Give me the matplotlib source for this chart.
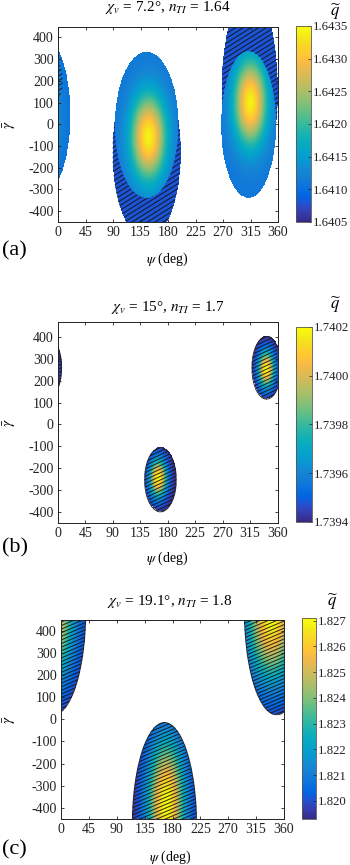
import numpy as np
import matplotlib
matplotlib.use("Agg")
import matplotlib.pyplot as plt
from matplotlib.colors import LinearSegmentedColormap
from matplotlib.collections import LineCollection

plt.rcParams['font.family'] = ['Liberation Serif', 'DejaVu Serif']
plt.rcParams['mathtext.fontset'] = 'stix'

W, H, DPI = 350, 865, 100

# ---------------- data ----------------
psi_ticks = [0, 45, 90, 135, 180, 225, 270, 315, 360]
gamma_ticks = [-400, -300, -200, -100, 0, 100, 200, 300, 400]
titles = [r'$\chi_v$ = 7.2°, $n_{TI}$ = 1.64',
          r'$\chi_v$ = 15°, $n_{TI}$ = 1.7',
          r'$\chi_v$ = 19.1°, $n_{TI}$ = 1.8']
panel_labels = ['(a)', '(b)', '(c)']
x_label = r'$\psi$ (deg)'
y_label = r'$\bar{\gamma}$'
cbar_label = r'$\widetilde{q}$'

# panel (a): colored blobs (ellipse centre / semi-axes, peak location / spread, edge & peak value)
a_blob_psi = [-25, 145, 312]
a_blob_gamma = [41, -4, -2]
a_blob_apsi = [45, 52, 45]
a_blob_agamma = [362, 336, 338]
a_peak_psi = [-25, 148, 315]
a_peak_gamma = [40, -60, 100]
a_spread_psi = [30, 28, 26]
a_spread_gamma = [250, 190, 190]
a_q_edge = [1.6410, 1.6411, 1.6411]
a_q_peak = [1.6416, 1.6434, 1.6434]
a_blob_hatched = [True, False, False]
a_hatch_psi = [-12, 145, 314]
a_hatch_gamma = [200, -130, 150]
a_hatch_apsi = [20, 56, 46]
a_hatch_agamma = [110, 400, 460]
a_q_hatch = 1.6408
a_cticks = [1.6405, 1.6410, 1.6415, 1.6420, 1.6425, 1.6430, 1.6435]
a_clim = (1.6405, 1.6435)
a_ylim = (-450, 450)

# panel (b)
b_blob_psi = [168, 342]
b_blob_gamma = [-254, 260]
b_blob_apsi = [26, 24]
b_blob_agamma = [147, 144]
b_peak_psi = [164, 341]
b_peak_gamma = [-250, 250]
b_spread_psi = [14, 13]
b_spread_gamma = [85, 82]
b_q_edge = [1.7394, 1.7394]
b_q_peak = [1.74021, 1.74021]
b_blob_hatched = [True, True]
b_hatch_psi = b_blob_psi
b_hatch_gamma = b_blob_gamma
b_hatch_apsi = b_blob_apsi
b_hatch_agamma = b_blob_agamma
b_q_hatch = 1.7394
b_cticks = [1.7394, 1.7396, 1.7398, 1.7400, 1.7402]
b_clim = (1.7394, 1.7402)
b_ylim = (-450, 470)

# panel (c)
c_blob_psi = [167, 348]
c_blob_gamma = [-480, 490]
c_blob_apsi = [52, 52]
c_blob_agamma = [465, 470]
c_peak_psi = [170, 340]
c_peak_gamma = [-380, 470]
c_spread_psi = [30, 38]
c_spread_gamma = [290, 290]
c_q_edge = [1.8193, 1.8193]
c_q_peak = [1.8272, 1.8272]
c_blob_hatched = [True, True]
c_hatch_psi = c_blob_psi
c_hatch_gamma = c_blob_gamma
c_hatch_apsi = c_blob_apsi
c_hatch_agamma = c_blob_agamma
c_q_hatch = 1.8193
c_cticks = [1.820, 1.821, 1.822, 1.823, 1.824, 1.825, 1.826, 1.827]
c_clim = (1.8193, 1.8271)
c_ylim = (-450, 450)

# ---------------- colormap (MATLAB parula) ----------------
PARULA = [
    (0.2081, 0.1663, 0.5292), (0.2123, 0.2138, 0.6270), (0.1959, 0.2645, 0.7279),
    (0.1253, 0.3242, 0.8303), (0.0117, 0.3875, 0.8820), (0.0165, 0.4266, 0.8786),
    (0.0498, 0.4586, 0.8641), (0.0723, 0.4887, 0.8467), (0.0793, 0.5200, 0.8312),
    (0.0641, 0.5570, 0.8240), (0.0343, 0.5966, 0.8199), (0.0239, 0.6287, 0.8038),
    (0.0228, 0.6535, 0.7768), (0.0384, 0.6743, 0.7436), (0.0843, 0.6928, 0.7062),
    (0.1453, 0.7098, 0.6646), (0.2178, 0.7250, 0.6193), (0.3022, 0.7376, 0.5712),
    (0.3953, 0.7459, 0.5244), (0.4871, 0.7491, 0.4840), (0.5709, 0.7485, 0.4494),
    (0.6473, 0.7456, 0.4188), (0.7184, 0.7411, 0.3905), (0.7858, 0.7356, 0.3633),
    (0.8507, 0.7299, 0.3360), (0.9139, 0.7258, 0.3063), (0.9739, 0.7314, 0.2666),
    (0.9990, 0.7653, 0.2164), (0.9880, 0.8066, 0.1794), (0.9697, 0.8481, 0.1475),
    (0.9589, 0.8949, 0.1132), (0.9661, 0.9514, 0.0755), (0.9763, 0.9831, 0.0538)]
cmap = LinearSegmentedColormap.from_list('parula', PARULA, N=256)

panels = [
    dict(blob=(a_blob_psi, a_blob_gamma, a_blob_apsi, a_blob_agamma),
         peak=(a_peak_psi, a_peak_gamma, a_spread_psi, a_spread_gamma),
         qe=a_q_edge, qp=a_q_peak, hatched=a_blob_hatched,
         hatch=(a_hatch_psi, a_hatch_gamma, a_hatch_apsi, a_hatch_agamma),
         qh=a_q_hatch, cticks=a_cticks, clim=a_clim, ylim=a_ylim, fmt='%.4f',
         wrap=False,
         ax=(58, 278, 26.5, 222), cax=(296, 311, 26, 222), outline=False,
         hang=32, hsp=4.8, title=(168, 8), qlab=(336, 12), plab=(2, 251), xlab=(167, 259)),
    dict(blob=(b_blob_psi, b_blob_gamma, b_blob_apsi, b_blob_agamma),
         peak=(b_peak_psi, b_peak_gamma, b_spread_psi, b_spread_gamma),
         qe=b_q_edge, qp=b_q_peak, hatched=b_blob_hatched,
         hatch=(b_hatch_psi, b_hatch_gamma, b_hatch_apsi, b_hatch_agamma),
         qh=b_q_hatch, cticks=b_cticks, clim=b_clim, ylim=b_ylim, fmt='%.4f',
         wrap=True,
         ax=(58, 277.5, 322, 522.5), cax=(296, 312, 327, 522), outline=True,
         hang=25, hsp=3.6, title=(168, 307), qlab=(336, 305), plab=(2, 548), xlab=(167, 558)),
    dict(blob=(c_blob_psi, c_blob_gamma, c_blob_apsi, c_blob_agamma),
         peak=(c_peak_psi, c_peak_gamma, c_spread_psi, c_spread_gamma),
         qe=c_q_edge, qp=c_q_peak, hatched=c_blob_hatched,
         hatch=(c_hatch_psi, c_hatch_gamma, c_hatch_apsi, c_hatch_agamma),
         qh=c_q_hatch, cticks=c_cticks, clim=c_clim, ylim=c_ylim, fmt='%.3f',
         wrap=True,
         ax=(61, 284, 619.5, 819), cax=(302, 316, 618, 819), outline=True,
         hang=23, hsp=3.6, title=(170, 602), qlab=(333, 602), plab=(2, 850), xlab=(170, 857)),
]

fig = plt.figure(figsize=(W / DPI, H / DPI), dpi=DPI)


def rect(x0, x1, y0, y1):
    return [x0 / W, 1 - y1 / H, (x1 - x0) / W, (y1 - y0) / H]


def fpos(x, y):
    return x / W, 1 - y / H


for i, p in enumerate(panels):
    ylo, yhi = p['ylim']
    psi = np.linspace(0, 360, 721)
    gam = np.linspace(ylo, yhi, 461)
    P, G = np.meshgrid(psi, gam)
    shifts = (-360, 0, 360) if p['wrap'] else (0,)

    def inside(pc, gc, ap, ag):
        m = np.zeros(P.shape, bool)
        for s in shifts:
            m |= ((P - pc - s) / ap) ** 2 + ((G - gc) / ag) ** 2 <= 1
        return m

    def bump(pp, pg, sp, sg):
        v = np.zeros(P.shape)
        for s in shifts:
            v = np.maximum(v, np.exp(-((P - pp - s) / sp) ** 2 - ((G - pg) / sg) ** 2))
        return v

    Q = np.full(P.shape, np.nan)
    hmask = np.zeros(P.shape, bool)
    for k in range(len(p['hatch'][0])):
        m = inside(*[arr[k] for arr in p['hatch']])
        hmask |= m
        Q[m] = p['qh']
    plain = np.zeros(P.shape, bool)
    for k in range(len(p['blob'][0])):
        m = inside(*[arr[k] for arr in p['blob']])
        val = p['qe'][k] + (p['qp'][k] - p['qe'][k]) * bump(*[arr[k] for arr in p['peak']])
        Q = np.where(m, val, Q)
        if not p['hatched'][k]:
            plain |= m
    colored = ~np.isnan(Q)
    hmask &= ~plain

    ax = fig.add_axes(rect(*p['ax']))
    im = ax.imshow(np.ma.masked_invalid(Q), extent=(0, 360, ylo, yhi), origin='lower',
                   aspect='auto', cmap=cmap, vmin=p['clim'][0], vmax=p['clim'][1],
                   interpolation='nearest')
    # hatch lines clipped to the hatched region
    cs = ax.contourf(P, G, hmask.astype(float), levels=[0.5, 1.5], colors='none')
    paths = cs.get_paths()
    if len(paths) and len(paths[0].vertices):
        wpx = p['ax'][1] - p['ax'][0]
        hpx = p['ax'][3] - p['ax'][2]
        t = np.tan(np.radians(p['hang']))
        segs = []
        for c in np.arange(-wpx * t - p['hsp'], hpx + p['hsp'], p['hsp']):
            segs.append([(0, c / hpx), (1, (c + wpx * t) / hpx)])
        lc = LineCollection(segs, colors='#111111', linewidths=0.75, alpha=0.85,
                            transform=ax.transAxes)
        ax.add_collection(lc)
        lc.set_clip_path(paths[0], ax.transData)
    if p['outline']:
        ax.contour(P, G, colored.astype(float), levels=[0.5], colors='#222222', linewidths=0.6)

    ax.set_xlim(0, 360)
    ax.set_ylim(ylo, yhi)
    ax.set_xticks(psi_ticks)
    ax.set_yticks(gamma_ticks)
    ax.set_xticklabels([str(v) for v in psi_ticks])
    ax.set_yticklabels([str(v) for v in gamma_ticks])
    ax.tick_params(direction='in', top=True, right=True, length=2.5, width=0.6,
                   labelsize=10, colors='#222222', pad=3)
    for sp in ax.spines.values():
        sp.set_linewidth(0.7)
        sp.set_color('#222222')

    cax = fig.add_axes(rect(*p['cax']))
    cb = fig.colorbar(im, cax=cax, ticks=p['cticks'], format=p['fmt'])
    cb.outline.set_linewidth(0.6)
    cb.outline.set_edgecolor('#555555')
    cax.tick_params(direction='in', length=2.5, width=0.5, labelsize=9.2,
                    colors='#222222', pad=1.5)

    fig.text(*fpos(*p['title']), titles[i], ha='center', va='center', fontsize=11)
    fig.text(*fpos(*p['qlab']), cbar_label, ha='center', va='center', fontsize=12)
    fig.text(*fpos(*p['plab']), panel_labels[i], ha='left', va='center', fontsize=16)
    fig.text(*fpos(*p['xlab']), x_label, ha='center', va='center', fontsize=10)
    ymid = (p['ax'][2] + p['ax'][3]) / 2
    fig.text(*fpos(10, ymid), y_label, ha='center', va='center', rotation=90, fontsize=11)

fig.savefig('out.png', dpi=DPI)
